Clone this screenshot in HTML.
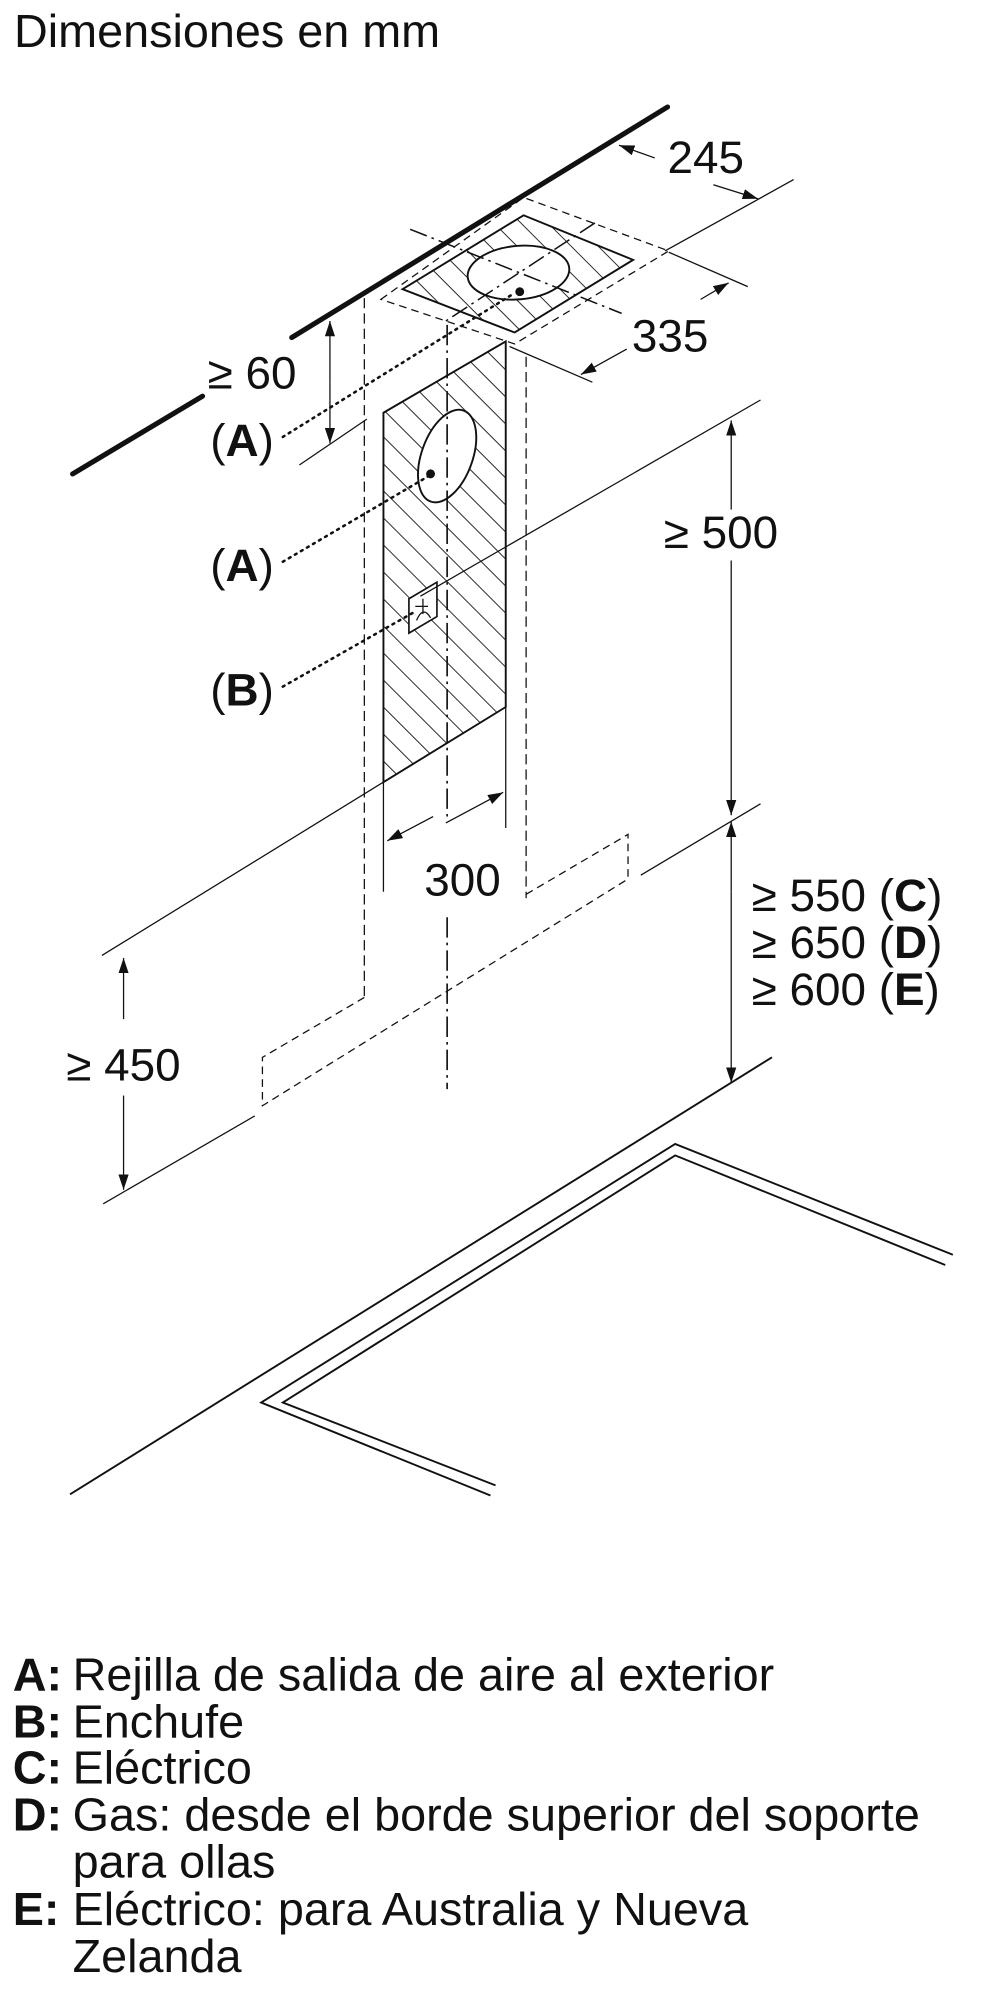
<!DOCTYPE html>
<html><head><meta charset="utf-8"><style>
html,body{margin:0;padding:0;background:#fff;}
svg{display:block;}
text{font-family:"Liberation Sans",Arial,sans-serif;fill:#111;}
</style></head><body>
<svg width="1000" height="2000" viewBox="0 0 785 1570" xmlns="http://www.w3.org/2000/svg">
<defs>
<pattern id="h" patternUnits="userSpaceOnUse" width="15" height="15" patternTransform="rotate(-45)">
<line x1="0" y1="0" x2="0" y2="15" stroke="#111" stroke-width="1.4"/>
</pattern>
<marker id="ar" viewBox="0 0 12 8" refX="12" refY="4" markerWidth="12" markerHeight="8" markerUnits="userSpaceOnUse" orient="auto-start-reverse">
<path d="M0,0 L12,4 L0,8 z" fill="#111"/>
</marker>
</defs>
<text x="11" y="37" font-size="36.7">Dimensiones en mm</text>

<g stroke="#111" fill="none">
<line x1="57" y1="372" x2="159" y2="311" stroke-width="4" stroke-linecap="round"/>
<line x1="229" y1="265" x2="524" y2="84" stroke-width="4" stroke-linecap="round"/>

<polygon points="299,235 411,155 525,197 404,270" stroke-width="1" stroke-dasharray="6,4"/>
<polygon points="316,227 411,169 497,204 404,261" fill="url(#h)" stroke-width="1.5"/>
<ellipse cx="407" cy="214" rx="40" ry="21" transform="rotate(-5 407 214)" fill="#fff" stroke-width="1.5"/>
<line x1="322" y1="180" x2="488" y2="246" stroke-width="1.2" stroke-dasharray="14,4,2,4"/>
<line x1="467" y1="175" x2="350" y2="252" stroke-width="1.2" stroke-dasharray="14,4,2,4"/>

<line x1="522" y1="197" x2="623" y2="141" stroke-width="1"/>
<line x1="514" y1="124" x2="486" y2="114" stroke-width="1" marker-end="url(#ar)"/>
<line x1="560" y1="145" x2="595" y2="156" stroke-width="1" marker-end="url(#ar)"/>
<line x1="525" y1="198" x2="587" y2="225" stroke-width="1"/>
<line x1="400" y1="272" x2="465" y2="300" stroke-width="1"/>
<line x1="550" y1="235" x2="572" y2="222" stroke-width="1" marker-end="url(#ar)"/>
<line x1="492" y1="274" x2="456" y2="294" stroke-width="1" marker-end="url(#ar)"/>

<line x1="286" y1="234" x2="286" y2="785" stroke-width="1" stroke-dasharray="8,4"/>
<line x1="413" y1="280" x2="413" y2="705" stroke-width="1" stroke-dasharray="8,4"/>

<polygon points="301,324 397,268 397,555 301,614" fill="url(#h)" stroke-width="1.5"/>
<ellipse cx="351" cy="358" rx="20" ry="38" transform="rotate(20 351 358)" fill="#fff" stroke-width="1.5"/>
<circle cx="338" cy="372" r="3.5" fill="#111" stroke="none"/>
<circle cx="408" cy="229" r="3.5" fill="#111" stroke="none"/>
<polygon points="321,470 343,457 343,484 321,497" fill="#fff" stroke-width="1.3"/>
<path d="M327,487 q5,-12 11,-2 M332,470 v12 M326,476 h10" stroke-width="1"/>
<line x1="351" y1="255" x2="351" y2="645" stroke-width="1.3" stroke-dasharray="16,4,2,4"/>
<line x1="351" y1="720" x2="351" y2="855" stroke-width="1.3" stroke-dasharray="16,4,2,4"/>

<line x1="222" y1="343" x2="404" y2="230" stroke-width="2" stroke-dasharray="1.5,4" stroke-linecap="round"/>
<line x1="222" y1="441" x2="336" y2="374" stroke-width="2" stroke-dasharray="1.5,4" stroke-linecap="round"/>
<line x1="222" y1="539" x2="326" y2="480" stroke-width="2" stroke-dasharray="1.5,4" stroke-linecap="round"/>

<line x1="235" y1="365" x2="288" y2="329" stroke-width="1"/>
<line x1="259" y1="300" x2="259" y2="252" stroke-width="1" marker-end="url(#ar)"/>
<line x1="259" y1="300" x2="259" y2="348" stroke-width="1" marker-end="url(#ar)"/>

<line x1="597" y1="314" x2="330" y2="468" stroke-width="1"/>
<line x1="574" y1="400" x2="574" y2="330" stroke-width="1" marker-end="url(#ar)"/>
<line x1="574" y1="440" x2="574" y2="640" stroke-width="1" marker-end="url(#ar)"/>

<line x1="301" y1="614" x2="301" y2="700" stroke-width="1"/>
<line x1="397" y1="555" x2="397" y2="650" stroke-width="1"/>
<line x1="340" y1="641" x2="304" y2="660" stroke-width="1" marker-end="url(#ar)"/>
<line x1="350" y1="646" x2="395" y2="622" stroke-width="1" marker-end="url(#ar)"/>

<line x1="80" y1="750" x2="301" y2="614" stroke-width="1"/>
<line x1="503" y1="687" x2="597" y2="631" stroke-width="1"/>
<line x1="81" y1="945" x2="200" y2="876" stroke-width="1"/>
<polyline points="413,702 493,655 493,690" stroke-width="1" stroke-dasharray="6,4"/>
<polyline points="286,783 206,830 206,868 493,690" stroke-width="1" stroke-dasharray="6,4"/>

<line x1="97" y1="800" x2="97" y2="752" stroke-width="1" marker-end="url(#ar)"/>
<line x1="97" y1="860" x2="97" y2="934" stroke-width="1" marker-end="url(#ar)"/>

<line x1="574" y1="700" x2="574" y2="645" stroke-width="1" marker-end="url(#ar)"/>
<line x1="574" y1="700" x2="574" y2="850" stroke-width="1" marker-end="url(#ar)"/>

<line x1="55" y1="1173" x2="606" y2="830" stroke-width="1.5"/>
<polyline points="385,1174 205,1101 530,898 748,985" stroke-width="1.5"/>
<polyline points="389,1166 222,1101 530,907 742,993" stroke-width="1.5"/>
</g>

<g font-size="36">
<text x="524" y="136">245</text>
<text x="496" y="276">335</text>
<text x="163" y="305">≥ 60</text>
<text x="165" y="358">(<tspan font-weight="bold">A</tspan>)</text>
<text x="165" y="456">(<tspan font-weight="bold">A</tspan>)</text>
<text x="165" y="554">(<tspan font-weight="bold">B</tspan>)</text>
<text x="521" y="430">≥ 500</text>
<text x="333" y="703">300</text>
<text x="52" y="848">≥ 450</text>
<text x="590" y="715">≥ 550 (<tspan font-weight="bold">C</tspan>)</text>
<text x="590" y="752">≥ 650 (<tspan font-weight="bold">D</tspan>)</text>
<text x="590" y="789">≥ 600 (<tspan font-weight="bold">E</tspan>)</text>
</g>

<g font-size="36.7">
<text x="10" y="1327" font-weight="bold">A:</text><text x="57" y="1327">Rejilla de salida de aire al exterior</text>
<text x="10" y="1364" font-weight="bold">B:</text><text x="57" y="1364">Enchufe</text>
<text x="10" y="1400" font-weight="bold">C:</text><text x="57" y="1400">Eléctrico</text>
<text x="10" y="1437" font-weight="bold">D:</text><text x="57" y="1437">Gas: desde el borde superior del soporte</text>
<text x="57" y="1474">para ollas</text>
<text x="10" y="1511" font-weight="bold">E:</text><text x="57" y="1511">Eléctrico: para Australia y Nueva</text>
<text x="57" y="1548">Zelanda</text>
</g>
</svg>
</body></html>
